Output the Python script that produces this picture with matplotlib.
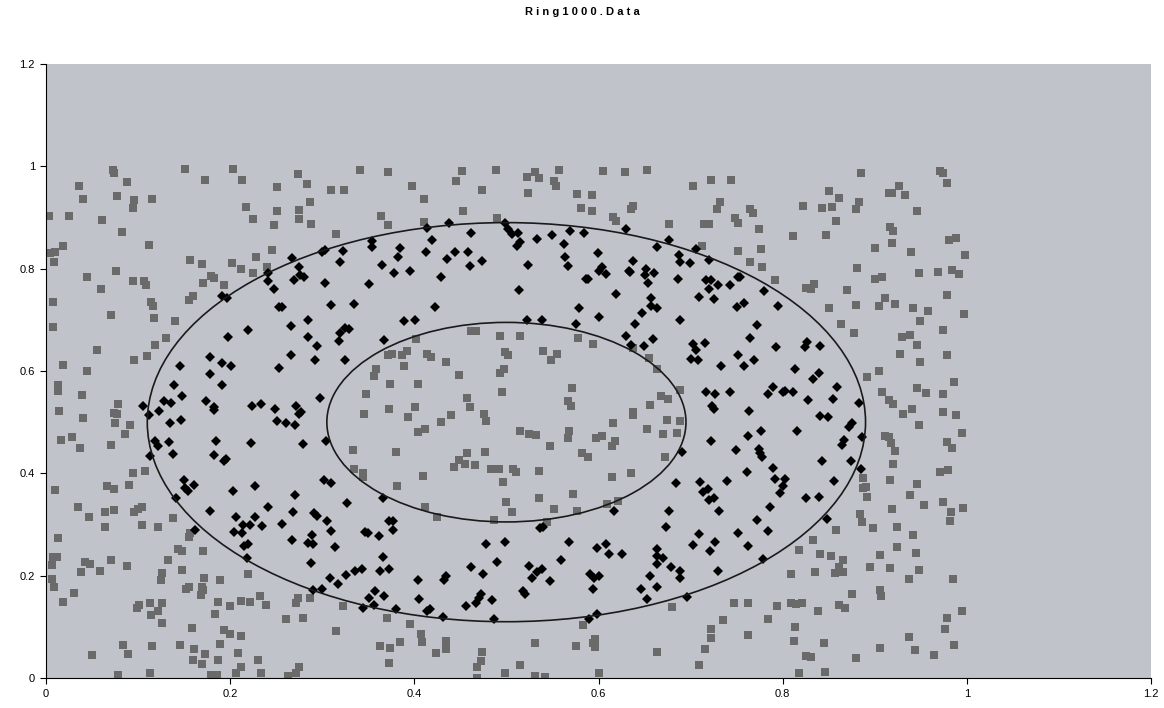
import numpy as np
import matplotlib
matplotlib.use("Agg")
import matplotlib.pylab as plt
from matplotlib.patches import Ellipse

# points outside the ring (grey squares)
outside_pts = [
	(0.073,0.992),(0.074,0.987),(0.151,0.994),(0.203,0.995),(0.036,0.962),(0.088,0.969),(0.173,0.974),(0.213,0.974),
	(0.251,0.960),(0.040,0.936),(0.077,0.942),(0.096,0.934),(0.115,0.937),(0.095,0.919),(0.217,0.921),(0.251,0.913),
	(0.003,0.902),(0.025,0.902),(0.061,0.895),(0.225,0.898),(0.248,0.885),(0.082,0.871),(0.018,0.844),(0.010,0.833),
	(0.004,0.831),(0.112,0.846),(0.009,0.814),(0.245,0.836),(0.156,0.816),(0.169,0.810),(0.202,0.812),(0.228,0.822),
	(0.212,0.799),(0.240,0.803),(0.045,0.784),(0.076,0.795),(0.094,0.776),(0.106,0.776),(0.109,0.769),(0.179,0.786),
	(0.182,0.781),(0.171,0.772),(0.193,0.769),(0.225,0.792),(0.060,0.760),(0.008,0.735),(0.114,0.735),(0.116,0.727),
	(0.160,0.747),(0.155,0.738),(0.071,0.709),(0.117,0.704),(0.008,0.686),(0.140,0.697),(0.130,0.665),
	(0.341,0.993),(0.274,0.985),(0.371,0.988),(0.452,0.990),(0.489,0.992),(0.283,0.965),(0.309,0.954),(0.324,0.954),
	(0.397,0.962),(0.445,0.971),(0.474,0.953),(0.287,0.930),(0.410,0.937),(0.275,0.915),(0.275,0.898),(0.288,0.888),
	(0.364,0.902),(0.371,0.885),(0.453,0.913),(0.410,0.891),(0.490,0.899),(0.315,0.867),(0.462,0.679),(0.467,0.678),
	(0.493,0.669),(0.402,0.662),
	(0.522,0.979),(0.531,0.989),(0.535,0.978),(0.557,0.992),(0.552,0.971),(0.554,0.962),(0.523,0.947),(0.605,0.990),
	(0.629,0.988),(0.653,0.993),(0.577,0.945),(0.593,0.943),(0.581,0.918),(0.593,0.913),(0.638,0.923),(0.635,0.917),
	(0.616,0.901),(0.619,0.893),(0.703,0.962),(0.722,0.973),(0.744,0.973),(0.732,0.930),(0.729,0.916),(0.748,0.900),
	(0.751,0.889),(0.677,0.887),(0.715,0.887),(0.720,0.887),(0.712,0.844),(0.751,0.835),(0.515,0.669),(0.578,0.665),
	(0.885,0.987),(0.971,0.990),(0.974,0.987),(0.979,0.967),(0.850,0.951),(0.861,0.939),(0.926,0.962),(0.915,0.948),
	(0.919,0.948),(0.933,0.943),(0.822,0.922),(0.843,0.919),(0.854,0.920),(0.883,0.930),(0.880,0.917),(0.946,0.913),
	(0.764,0.917),(0.768,0.909),(0.774,0.878),(0.858,0.893),(0.811,0.864),(0.847,0.865),(0.917,0.881),(0.920,0.873),
	(0.919,0.850),(0.900,0.840),(0.939,0.833),(0.981,0.857),(0.988,0.859),(0.998,0.826),(0.776,0.838),(0.764,0.813),
	(0.778,0.803),(0.881,0.802),(0.900,0.780),(0.908,0.783),(0.948,0.791),(0.969,0.793),(0.984,0.798),(0.992,0.790),
	(0.792,0.778),(0.834,0.771),(0.825,0.762),(0.831,0.760),(0.870,0.758),(0.979,0.749),(0.850,0.723),(0.880,0.729),
	(0.911,0.743),(0.905,0.728),(0.922,0.730),(0.942,0.723),(0.958,0.717),(0.997,0.711),(0.863,0.691),(0.949,0.697),
	(0.974,0.681),(0.877,0.675),(0.938,0.671),(0.930,0.666),
	(0.055,0.641),(0.118,0.650),(0.110,0.630),(0.096,0.622),(0.018,0.612),(0.045,0.600),(0.013,0.572),(0.013,0.561),
	(0.039,0.554),(0.078,0.536),(0.014,0.521),(0.074,0.518),(0.077,0.516),(0.040,0.509),(0.075,0.499),(0.091,0.494),
	(0.086,0.476),(0.016,0.466),(0.028,0.471),(0.037,0.449),(0.071,0.455),(0.094,0.401),(0.107,0.404),(0.010,0.367),
	(0.066,0.375),(0.074,0.369),(0.090,0.377),(0.035,0.335),(0.064,0.324),(0.074,0.328),(0.104,0.335),(0.100,0.331),
	(0.096,0.325),
	(0.371,0.632),(0.376,0.634),(0.387,0.631),(0.392,0.639),(0.414,0.634),(0.418,0.628),(0.434,0.617),(0.499,0.637),
	(0.389,0.609),(0.449,0.592),(0.497,0.604),(0.493,0.597),(0.358,0.603),(0.356,0.590),(0.374,0.575),(0.404,0.574),
	(0.347,0.555),(0.495,0.559),(0.457,0.548),(0.460,0.530),(0.373,0.525),(0.401,0.530),(0.345,0.515),(0.393,0.510),
	(0.440,0.514),(0.429,0.501),(0.476,0.515),(0.478,0.503),(0.412,0.487),(0.404,0.480),(0.333,0.445),(0.380,0.442),
	(0.457,0.440),(0.477,0.442),(0.448,0.426),(0.455,0.419),(0.443,0.412),(0.466,0.417),(0.483,0.408),(0.492,0.408),
	(0.335,0.409),(0.344,0.400),(0.344,0.393),(0.409,0.395),(0.496,0.383),(0.381,0.376),(0.500,0.344),(0.412,0.335),
	(0.594,0.652),(0.502,0.632),(0.540,0.639),(0.555,0.633),(0.548,0.621),(0.637,0.644),(0.655,0.626),(0.663,0.603),
	(0.571,0.567),(0.567,0.541),(0.570,0.531),(0.689,0.562),(0.668,0.551),(0.676,0.546),(0.656,0.534),(0.637,0.519),
	(0.637,0.514),(0.616,0.499),(0.674,0.504),(0.689,0.502),(0.653,0.486),(0.670,0.476),(0.685,0.479),(0.515,0.483),
	(0.525,0.477),(0.532,0.475),(0.568,0.483),(0.567,0.469),(0.597,0.470),(0.604,0.473),(0.618,0.464),(0.615,0.454),
	(0.547,0.453),(0.582,0.439),(0.589,0.432),(0.672,0.432),(0.507,0.409),(0.510,0.403),(0.535,0.404),(0.635,0.401),
	(0.615,0.393),(0.535,0.352),(0.572,0.359),(0.506,0.325),(0.552,0.331),(0.577,0.326),(0.609,0.341),(0.621,0.346),
	(0.946,0.650),(0.927,0.633),(0.978,0.632),(0.949,0.617),(0.905,0.600),(0.892,0.589),(0.986,0.578),(0.908,0.559),
	(0.946,0.566),(0.956,0.557),(0.974,0.555),(0.916,0.543),(0.920,0.535),(0.940,0.526),(0.931,0.515),(0.974,0.520),
	(0.988,0.514),(0.948,0.494),(0.995,0.479),(0.911,0.472),(0.916,0.471),(0.918,0.459),(0.922,0.443),(0.978,0.462),
	(0.984,0.450),(0.920,0.419),(0.971,0.403),(0.980,0.407),(0.887,0.391),(0.887,0.372),(0.891,0.374),(0.917,0.387),
	(0.946,0.380),(0.892,0.353),(0.938,0.357),(0.953,0.339),(0.974,0.344),(0.919,0.331),(0.983,0.325),(0.996,0.333),
	(0.884,0.320),
	(0.047,0.314),(0.064,0.296),(0.104,0.299),(0.122,0.296),(0.138,0.312),(0.013,0.273),(0.155,0.276),(0.156,0.283),
	(0.008,0.236),(0.012,0.236),(0.007,0.221),(0.042,0.227),(0.048,0.223),(0.038,0.208),(0.059,0.210),(0.071,0.231),
	(0.088,0.219),(0.143,0.253),(0.148,0.249),(0.171,0.249),(0.133,0.230),(0.148,0.212),(0.126,0.206),(0.125,0.191),
	(0.007,0.194),(0.009,0.177),(0.030,0.167),(0.019,0.148),(0.172,0.195),(0.189,0.192),(0.219,0.204),(0.155,0.177),
	(0.152,0.174),(0.169,0.178),(0.171,0.172),(0.168,0.162),(0.187,0.149),(0.200,0.141),(0.212,0.150),(0.222,0.148),
	(0.232,0.160),(0.239,0.143),(0.183,0.126),(0.101,0.143),(0.099,0.137),(0.113,0.146),(0.126,0.147),(0.122,0.131),
	(0.114,0.124),(0.126,0.107),(0.159,0.097),(0.193,0.094),(0.200,0.086),(0.212,0.083),(0.084,0.065),(0.115,0.063),
	(0.145,0.064),(0.189,0.066),(0.050,0.044),(0.089,0.047),(0.161,0.057),(0.173,0.046),(0.160,0.036),(0.169,0.028),
	(0.187,0.035),(0.209,0.048),(0.230,0.035),(0.212,0.022),(0.078,0.006),(0.113,0.009),(0.179,0.005),(0.186,0.006),
	(0.206,0.010),(0.233,0.009),
	(0.425,0.315),(0.486,0.309),(0.274,0.157),(0.271,0.146),(0.287,0.156),(0.323,0.141),(0.261,0.116),(0.279,0.117),
	(0.370,0.118),(0.315,0.092),(0.395,0.105),(0.407,0.086),(0.408,0.071),(0.434,0.072),(0.434,0.056),(0.363,0.062),
	(0.374,0.059),(0.384,0.070),(0.372,0.030),(0.423,0.048),(0.474,0.051),(0.472,0.034),(0.468,0.022),(0.275,0.021),
	(0.271,0.010),(0.263,0.003),(0.468,0.000),(0.498,0.010),
	(0.544,0.305),(0.680,0.138),(0.747,0.147),(0.735,0.113),(0.722,0.096),(0.722,0.079),(0.716,0.056),(0.709,0.026),
	(0.664,0.051),(0.583,0.103),(0.531,0.068),(0.576,0.062),(0.596,0.077),(0.594,0.068),(0.596,0.060),(0.515,0.026),
	(0.531,0.003),(0.542,0.001),(0.600,0.009),
	(0.886,0.305),(0.982,0.307),(0.898,0.294),(0.924,0.296),(0.942,0.279),(0.858,0.289),(0.833,0.270),(0.818,0.250),
	(0.841,0.243),(0.853,0.239),(0.866,0.230),(0.906,0.240),(0.924,0.256),(0.945,0.244),(0.895,0.217),(0.917,0.215),
	(0.948,0.212),(0.937,0.193),(0.985,0.193),(0.809,0.204),(0.835,0.207),(0.857,0.206),(0.866,0.208),(0.861,0.216),
	(0.762,0.147),(0.794,0.141),(0.809,0.146),(0.815,0.144),(0.821,0.146),(0.838,0.130),(0.861,0.142),(0.868,0.137),
	(0.875,0.164),(0.906,0.172),(0.907,0.160),(0.784,0.115),(0.813,0.100),(0.995,0.131),(0.978,0.117),(0.976,0.096),
	(0.762,0.085),(0.812,0.073),(0.845,0.068),(0.937,0.080),(0.986,0.064),(0.944,0.054),(0.906,0.058),(0.964,0.044),
	(0.825,0.043),(0.831,0.042),(0.880,0.040),(0.818,0.009),(0.846,0.012),
]

# points inside the ring (black diamonds)
ring_pts = [
	(0.241,0.792),(0.241,0.776),(0.248,0.760),(0.191,0.746),(0.197,0.743),(0.253,0.725),(0.219,0.680),(0.198,0.667),
	(0.438,0.889),(0.498,0.889),(0.502,0.878),(0.414,0.880),(0.461,0.870),(0.419,0.857),(0.354,0.854),(0.354,0.842),
	(0.384,0.840),(0.303,0.837),(0.300,0.832),(0.323,0.835),(0.413,0.833),(0.444,0.833),(0.458,0.833),(0.382,0.823),
	(0.267,0.820),(0.436,0.818),(0.473,0.815),(0.319,0.814),(0.275,0.804),(0.365,0.807),(0.460,0.805),(0.395,0.796),
	(0.378,0.792),(0.276,0.787),(0.280,0.784),(0.269,0.778),(0.429,0.784),(0.303,0.772),(0.351,0.770),(0.256,0.725),
	(0.309,0.729),(0.334,0.730),(0.422,0.726),(0.285,0.699),(0.389,0.698),(0.401,0.700),(0.266,0.687),(0.325,0.684),
	(0.329,0.682),(0.319,0.674),(0.285,0.667),(0.367,0.661),
	(0.506,0.868),(0.513,0.870),(0.515,0.853),(0.512,0.844),(0.533,0.858),(0.549,0.865),(0.569,0.874),(0.584,0.870),
	(0.562,0.848),(0.630,0.878),(0.677,0.857),(0.664,0.842),(0.599,0.831),(0.564,0.822),(0.523,0.808),(0.567,0.805),
	(0.637,0.815),(0.604,0.803),(0.600,0.796),(0.608,0.790),(0.633,0.796),(0.634,0.793),(0.652,0.799),(0.660,0.792),
	(0.650,0.787),(0.654,0.772),(0.586,0.780),(0.589,0.779),(0.687,0.826),(0.688,0.814),(0.699,0.812),(0.686,0.779),
	(0.706,0.839),(0.720,0.816),(0.717,0.777),(0.722,0.777),(0.730,0.768),(0.743,0.768),(0.752,0.784),(0.720,0.760),
	(0.709,0.745),(0.725,0.740),(0.750,0.725),(0.514,0.758),(0.619,0.751),(0.657,0.743),(0.657,0.727),(0.664,0.723),
	(0.579,0.723),(0.647,0.713),(0.600,0.705),(0.689,0.700),(0.522,0.700),(0.539,0.700),(0.576,0.692),(0.640,0.692),
	(0.630,0.668),(0.659,0.662),
	(0.754,0.784),(0.780,0.756),(0.758,0.732),(0.795,0.727),(0.772,0.689),(0.764,0.665),
	(0.178,0.627),(0.191,0.615),(0.201,0.609),(0.145,0.609),(0.178,0.594),(0.191,0.572),(0.139,0.573),(0.148,0.551),
	(0.174,0.541),(0.182,0.529),(0.182,0.523),(0.128,0.542),(0.136,0.537),(0.105,0.531),(0.123,0.521),(0.112,0.514),
	(0.135,0.499),(0.147,0.504),(0.224,0.532),(0.233,0.536),(0.249,0.525),(0.251,0.502),(0.253,0.605),(0.118,0.464),
	(0.122,0.453),(0.134,0.462),(0.185,0.464),(0.223,0.459),(0.138,0.438),(0.113,0.433),(0.182,0.436),(0.193,0.425),
	(0.196,0.428),(0.150,0.387),(0.161,0.377),(0.151,0.372),(0.154,0.365),(0.203,0.366),(0.227,0.375),(0.141,0.351),
	(0.241,0.335),(0.178,0.326),
	(0.318,0.658),(0.294,0.649),(0.266,0.631),(0.292,0.622),(0.325,0.622),(0.298,0.548),(0.272,0.532),(0.275,0.516),
	(0.277,0.519),(0.261,0.499),(0.270,0.495),(0.279,0.457),(0.304,0.464),(0.302,0.387),(0.310,0.381),(0.270,0.357),
	(0.327,0.342),(0.366,0.351),(0.268,0.325),(0.291,0.323),
	(0.649,0.648),(0.635,0.650),(0.703,0.652),(0.716,0.654),(0.706,0.641),(0.700,0.624),(0.708,0.621),(0.733,0.609),
	(0.752,0.631),(0.717,0.559),(0.727,0.555),(0.743,0.559),(0.723,0.532),(0.725,0.525),(0.722,0.463),(0.749,0.445),
	(0.691,0.441),(0.684,0.381),(0.710,0.383),(0.740,0.385),(0.714,0.364),(0.719,0.369),(0.720,0.348),(0.725,0.352),
	(0.677,0.326),(0.731,0.326),(0.617,0.326),
	(0.793,0.646),(0.826,0.656),(0.824,0.646),(0.841,0.649),(0.769,0.622),(0.758,0.609),(0.813,0.603),(0.839,0.596),
	(0.833,0.585),(0.859,0.569),(0.790,0.568),(0.784,0.555),(0.800,0.559),(0.802,0.561),(0.811,0.559),(0.827,0.543),
	(0.855,0.546),(0.883,0.538),(0.763,0.521),(0.841,0.512),(0.849,0.510),(0.875,0.499),(0.872,0.490),(0.777,0.482),
	(0.816,0.482),(0.762,0.472),(0.886,0.471),(0.867,0.466),(0.864,0.455),(0.774,0.447),(0.775,0.439),(0.778,0.431),
	(0.843,0.424),(0.874,0.424),(0.789,0.410),(0.885,0.408),(0.761,0.402),(0.792,0.388),(0.803,0.389),(0.856,0.385),
	(0.800,0.375),(0.797,0.361),(0.825,0.352),(0.839,0.354),(0.786,0.334),
	(0.206,0.314),(0.227,0.314),(0.214,0.300),(0.222,0.300),(0.235,0.298),(0.204,0.286),(0.213,0.284),(0.162,0.289),
	(0.215,0.258),(0.219,0.262),(0.218,0.234),
	(0.294,0.316),(0.256,0.301),(0.305,0.307),(0.289,0.280),(0.310,0.287),(0.267,0.270),(0.285,0.264),(0.290,0.262),
	(0.314,0.257),(0.288,0.225),(0.372,0.307),(0.377,0.307),(0.377,0.290),(0.346,0.285),(0.350,0.283),(0.362,0.277),
	(0.366,0.237),(0.478,0.261),(0.498,0.265),(0.490,0.227),(0.461,0.217),(0.475,0.203),(0.308,0.195),(0.326,0.201),
	(0.317,0.184),(0.336,0.210),(0.343,0.213),(0.363,0.210),(0.372,0.213),(0.404,0.192),(0.434,0.199),(0.432,0.191),
	(0.290,0.172),(0.300,0.174),(0.357,0.171),(0.351,0.157),(0.367,0.160),(0.405,0.154),(0.472,0.165),(0.470,0.156),
	(0.467,0.146),(0.484,0.153),(0.456,0.141),(0.344,0.137),(0.356,0.143),(0.380,0.135),(0.414,0.131),(0.417,0.135),
	(0.431,0.120),(0.486,0.116),
	(0.536,0.294),(0.540,0.296),(0.673,0.296),(0.709,0.281),(0.751,0.283),(0.568,0.266),(0.598,0.255),(0.608,0.262),
	(0.611,0.242),(0.625,0.243),(0.664,0.252),(0.664,0.238),(0.670,0.235),(0.664,0.223),(0.703,0.259),(0.727,0.266),
	(0.721,0.249),(0.559,0.230),(0.525,0.218),(0.533,0.208),(0.539,0.213),(0.528,0.195),(0.547,0.190),(0.591,0.203),
	(0.595,0.195),(0.601,0.199),(0.594,0.174),(0.518,0.171),(0.520,0.164),(0.679,0.216),(0.689,0.210),(0.689,0.196),
	(0.730,0.209),(0.656,0.200),(0.646,0.173),(0.663,0.177),(0.653,0.155),(0.696,0.158),(0.598,0.126),(0.590,0.115),
	(0.772,0.309),(0.784,0.287),(0.762,0.258),(0.779,0.232),(0.848,0.311),
]

# ring boundaries: centre and radii
centre = (0.5, 0.5)
r_outer = 0.39
r_inner = 0.195

ticks = [0, 0.2, 0.4, 0.6, 0.8, 1, 1.2]
tick_labels = ["0", "0.2", "0.4", "0.6", "0.8", "1", "1.2"]

plt.rcParams['font.family'] = ['Liberation Sans', 'DejaVu Sans']

fig = plt.figure(figsize=(11.64, 7.08), dpi=100)
ax = fig.add_axes([46/1164., 1-678/708., (1151-46)/1164., (678-64)/708.])
ax.set_facecolor('#c0c4ca')

ox, oy = zip(*outside_pts)
rx, ry = zip(*ring_pts)
ax.plot(ox, oy, 's', color='#6a6a6a', ms=5.6, mew=0, zorder=2)
ax.plot(rx, ry, 'D', color='#000000', ms=4.6, mew=0, zorder=3)

ax.add_patch(Ellipse(centre, 2*r_outer, 2*r_outer, fill=False, ec='#1a1a1a', lw=1.2, zorder=4))
ax.add_patch(Ellipse(centre, 2*r_inner, 2*r_inner, fill=False, ec='#1a1a1a', lw=1.2, zorder=4))

ax.set_xlim(0, 1.2)
ax.set_ylim(0, 1.2)
ax.set_xticks(ticks)
ax.set_xticklabels(tick_labels)
ax.set_yticks(ticks)
ax.set_yticklabels(tick_labels)
ax.tick_params(direction='out', length=4, width=0.8, labelsize=8, colors='#000000', pad=4)
for s in ['top', 'right']:
	ax.spines[s].set_visible(False)
for s in ['left', 'bottom']:
	ax.spines[s].set_color('#000000')
	ax.spines[s].set_linewidth(0.8)

fig.text(0.5, 1-12/708., "R i n g 1 0 0 0 . D a t a", ha='center', va='center', fontsize=8, fontweight='bold')

plt.savefig("out.png", dpi=100)
